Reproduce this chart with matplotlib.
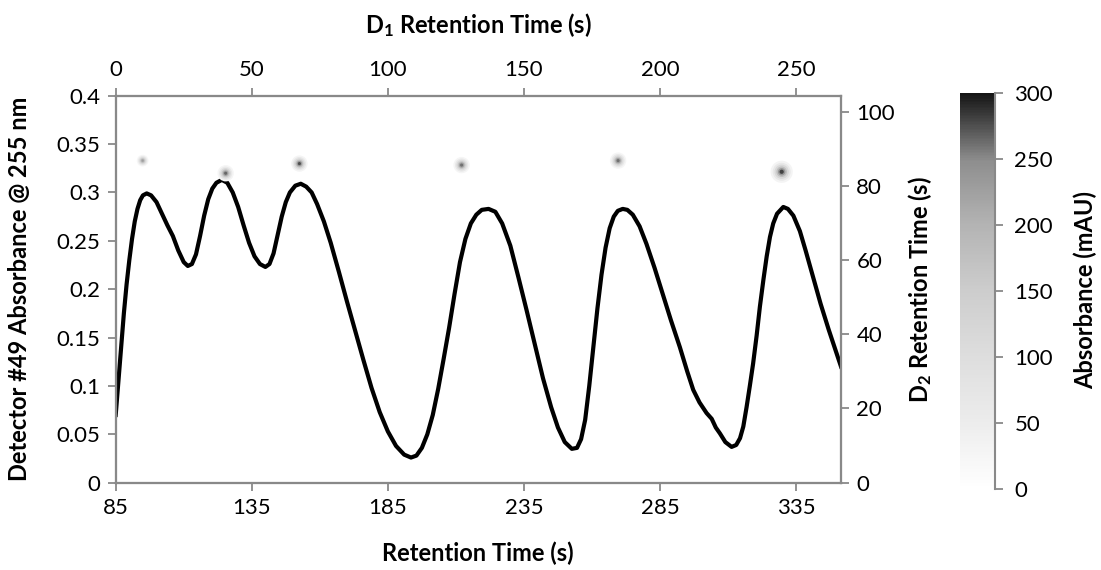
import matplotlib.pyplot as plt
import numpy as np
from matplotlib.colors import LinearSegmentedColormap, Normalize
from matplotlib.cm import ScalarMappable

plt.rcParams['font.family'] = ['Lato', 'DejaVu Sans']
plt.rcParams['mathtext.fontset'] = 'custom'
plt.rcParams['mathtext.rm'] = 'Lato'
plt.rcParams['mathtext.bf'] = 'Lato:bold'

# detector #49 trace (bottom / left axes)
time = [85, 86, 87, 88, 89, 90, 91, 92, 93, 94, 95, 96.4, 98, 100, 102, 104, 106, 108,
        110, 111.5, 113, 114.5, 116, 117.5, 119, 120.5, 122, 124, 126, 128, 130, 132,
        134, 136, 138, 140, 141.5, 143, 144.5, 146, 147.5, 149, 151, 153, 155, 157,
        159, 161.5, 164, 167, 170, 173, 176, 179, 182, 185, 188, 191, 193.5, 195.5,
        197.5, 199.5, 201.5, 203.5, 205.5, 207.5, 209.5, 211.5, 213.5, 215.5, 217.5,
        219.5, 222, 224.5, 227, 230, 233, 236, 239, 242, 245, 247.5, 250, 252.6,
        254.5, 256, 257.5, 259, 260.5, 262, 263.5, 265, 266.5, 268, 269.5, 271.3, 273,
        275, 277.5, 280, 283, 286, 289, 292.3, 295, 297.2, 299.5, 302.1, 304, 305.5,
        307, 309, 311.3, 313, 314.4, 315.6, 316.8, 318, 319.2, 320.5, 321.7, 323,
        324.2, 325.4, 326.6, 328, 330.3, 332, 334, 336.4, 338.5, 341, 344, 347, 349.5,
        351.5]
absorbance = [0.07, 0.105, 0.14, 0.175, 0.205, 0.23, 0.252, 0.27, 0.283, 0.292, 0.297,
              0.299, 0.297, 0.29, 0.278, 0.266, 0.255, 0.24, 0.228, 0.224, 0.226, 0.236,
              0.255, 0.276, 0.293, 0.304, 0.31, 0.313, 0.31, 0.3, 0.285, 0.266, 0.248,
              0.234, 0.226, 0.223, 0.226, 0.237, 0.256, 0.275, 0.29, 0.3, 0.307, 0.309,
              0.306, 0.3, 0.288, 0.27, 0.248, 0.218, 0.187, 0.157, 0.127, 0.098, 0.073,
              0.053, 0.038, 0.029, 0.026, 0.028, 0.036, 0.05, 0.07, 0.097, 0.128, 0.16,
              0.195, 0.228, 0.252, 0.268, 0.277, 0.282, 0.283, 0.28, 0.268, 0.245, 0.212,
              0.178, 0.143, 0.108, 0.078, 0.057, 0.042, 0.035, 0.036, 0.045, 0.065, 0.1,
              0.14, 0.18, 0.215, 0.243, 0.263, 0.275, 0.281, 0.283, 0.282, 0.277, 0.265,
              0.247, 0.222, 0.195, 0.168, 0.14, 0.115, 0.096, 0.083, 0.072, 0.066, 0.057,
              0.051, 0.042, 0.037, 0.039, 0.046, 0.058, 0.078, 0.1, 0.123, 0.152, 0.182,
              0.21, 0.234, 0.254, 0.268, 0.278, 0.285, 0.283, 0.276, 0.26, 0.24, 0.215,
              0.185, 0.158, 0.137, 0.12]

# 2D spots (top / right axes)
spot_d1 = [9.9, 40.4, 67.5, 127.1, 184.6, 244.7]
spot_d2 = [86.8, 83.4, 86.0, 85.6, 86.8, 83.8]
spot_abs = [240, 280, 290, 275, 275, 295]
spot_width = [2.0, 2.8, 2.8, 2.8, 2.8, 3.8]

bottom_ticks = [85, 135, 185, 235, 285, 335]
left_ticks = [0, 0.05, 0.1, 0.15, 0.2, 0.25, 0.3, 0.35, 0.4]
left_labels = ['0', '0.05', '0.1', '0.15', '0.2', '0.25', '0.3', '0.35', '0.4']
top_ticks = [0, 50, 100, 150, 200, 250]
right_ticks = [0, 20, 40, 60, 80, 100]
cbar_ticks = [0, 50, 100, 150, 200, 250, 300]

grey = '#898989'
fs = 16
fs_lab = 17

cmap = LinearSegmentedColormap.from_list(
    'abs', [(0, '#ffffff'), (0.17, '#ececec'), (0.33, '#dedede'), (0.5, '#cdcdcd'),
            (0.67, '#b3b3b3'), (0.83, '#8e8e8e'), (1.0, '#151515')])
norm = Normalize(0, 300)

fig = plt.figure(figsize=(11.01, 5.70), dpi=100)
ax = fig.add_axes([115.7 / 1101, 1 - 482.7 / 570, 725.3 / 1101, 387 / 570])
ax.plot(time, absorbance, color='black', lw=3, solid_joinstyle='round')
ax.set_xlim(85, 351.5)
ax.set_ylim(0, 0.4)
ax.set_xticks(bottom_ticks)
ax.set_yticks(left_ticks)
ax.set_yticklabels(left_labels)

ax2 = ax.twinx()
ax2.set_ylim(0, 104.3)
ax2.set_yticks(right_ticks)

ax3 = ax2.twiny()
ax3.set_xlim(0, 266.5)
ax3.set_xticks(top_ticks)

# blurred spots drawn as stacked discs
w = np.array(spot_width)
a = np.array(spot_abs)
for scale, frac in [(4.2, 0.1), (3.4, 0.22), (2.7, 0.4), (2.0, 0.6), (1.4, 0.8), (0.8, 0.95)]:
    ax3.scatter(spot_d1, spot_d2, s=(w * scale) ** 2, c=a * frac, cmap=cmap, norm=norm,
                linewidths=0, zorder=2)

for a_ in (ax, ax2, ax3):
    for sp in a_.spines.values():
        sp.set_color(grey)
        sp.set_linewidth(1.5)
    a_.tick_params(direction='out', length=6, width=1.3, color=grey,
                   labelsize=fs, pad=5)

mid_y = 0.5 * (2 - (95.7 + 482.7) / 570)
fig.text(478 / 1101, 1 - 25 / 570, r'$\mathbf{D_1}$ Retention Time (s)', ha='center',
         va='center', fontsize=fs_lab, fontweight='bold')
fig.text(478 / 1101, 1 - 553 / 570, 'Retention Time (s)', ha='center', va='center',
         fontsize=fs_lab, fontweight='bold')
fig.text(20 / 1101, mid_y, 'Detector #49 Absorbance @ 255 nm',
         ha='center', va='center', rotation=90, fontsize=fs_lab, fontweight='bold')
fig.text(920 / 1101, mid_y, r'$\mathbf{D_2}$ Retention Time (s)',
         ha='center', va='center', rotation=90, fontsize=fs_lab, fontweight='bold')

cax = fig.add_axes([960 / 1101, 1 - 489 / 570, 35 / 1101, (489 - 93) / 570])
cb = fig.colorbar(ScalarMappable(norm=norm, cmap=cmap), cax=cax)
cb.outline.set_visible(False)
cax.plot([1, 1], [0, 1], transform=cax.transAxes, color=grey, lw=1.5, clip_on=False)
cb.set_ticks(cbar_ticks)
cax.tick_params(direction='out', length=6, width=1.3, color=grey, labelsize=fs, pad=8)
fig.text(1085 / 1101, 1 - 290 / 570, 'Absorbance (mAU)', ha='center', va='center',
         rotation=90, fontsize=fs_lab, fontweight='bold')

fig.savefig('out.png', dpi=100)
